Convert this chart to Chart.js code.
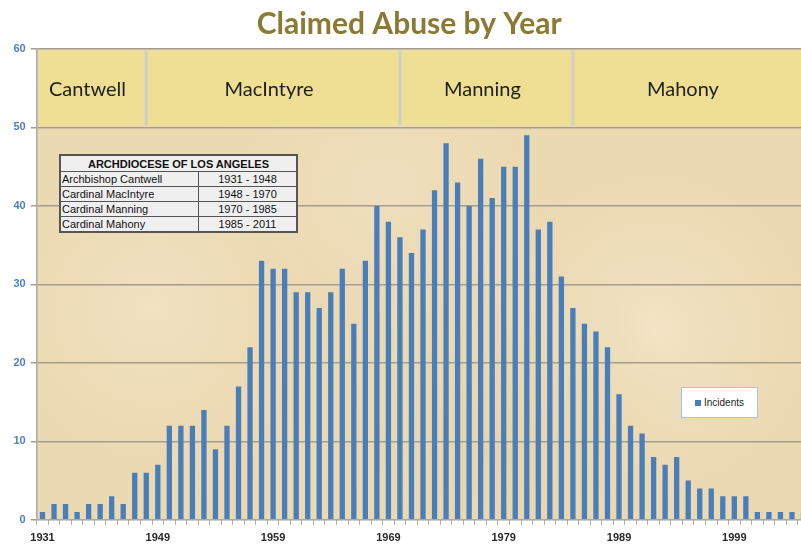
<!DOCTYPE html>
<html>
<head>
<meta charset="utf-8">
<script src="https://cdn.jsdelivr.net/npm/chart.js@4"></script>
<style>
  body { margin: 0; overflow: hidden; background: #fff; }
  #wrap { position: relative; width: 801px; height: 544px; overflow: hidden; }
  #abuseChart { position: absolute; left: 0; top: 0; }
  #archTable {
    position: absolute; left: 59px; top: 154px; width: 239px;
    border-collapse: collapse; background: #efefef;
    font-family: "Liberation Sans", Arial, sans-serif; font-size: 11px; color: #111;
    border: 2px solid #555;
  }
  #archTable td, #archTable th { border: 1px solid #555; padding: 0 1px; height: 14px; line-height: 14px; }
  #archTable th { font-weight: bold; height: 15px; }
  #archTable td.span { text-align: center; width: 95px; }
  #legendBox {
    position: absolute; left: 681px; top: 387px; width: 77px; height: 31px;
    background: #fff; border: 1px solid #a9c1e3; box-sizing: border-box;
    font-family: "Liberation Sans", Arial, sans-serif; font-size: 10px; color: #222;
    display: flex; align-items: center; justify-content: center;
  }
  #legendBox span.sw { display: inline-block; width: 6px; height: 6px; background: #4a7ebb; margin-right: 3px; }
</style>
</head>
<body>
<div id="wrap">
  <canvas id="abuseChart" width="810" height="551"></canvas>
  <table id="archTable"></table>
  <div id="legendBox"></div>
</div>
<script>
// categories (years with claims)
let years = ['1931','1933','1935','1937','1939','1941','1943','1945','1947','1948',
  '1949','1950','1951','1952','1953','1954','1955','1956','1957','1958',
  '1959','1960','1961','1962','1963','1964','1965','1966','1967','1968',
  '1969','1970','1971','1972','1973','1974','1975','1976','1977','1978',
  '1979','1980','1981','1982','1983','1984','1985','1986','1987','1988',
  '1989','1990','1991','1992','1993','1994','1995','1996','1997','1998',
  '1999','2000','2001','2002','2003','2004','2005'];
let incidents = [1,2,2,1,2,2,3,2,6,6,
  7,12,12,12,14,9,12,17,22,33,
  32,32,29,29,27,29,32,25,33,40,
  38,36,34,37,42,48,43,40,46,41,
  45,45,49,37,38,31,27,25,24,22,
  16,12,11,8,7,8,5,4,4,3,
  3,3,1,1,1,1,1];
let seriesName = "Incidents";

// bands along the top of the chart
let eraNames = ['Cantwell', 'MacIntyre', 'Manning', 'Mahony'];
let eraStart = ['1931', '1948', '1970', '1985'];
let eraEnd = ['1948', '1970', '1985', '2011'];

// inset table
let tableHeader = "ARCHDIOCESE OF LOS ANGELES";
let tableNames = ['Archbishop Cantwell', 'Cardinal MacIntyre', 'Cardinal Manning', 'Cardinal Mahony'];
let tableSpans = ['1931 - 1948', '1948 - 1970', '1970 - 1985', '1985 - 2011'];

let yTicks = [0, 10, 20, 30, 40, 50, 60];

// build table + legend
let tb = document.getElementById("archTable");
let html = '<tr><th colspan="2">' + tableHeader + '</th></tr>';
for (let i = 0; i < tableNames.length; i++) {
  html += '<tr><td>' + tableNames[i] + '</td><td class="span">' + tableSpans[i] + '</td></tr>';
}
tb.innerHTML = html;
document.getElementById("legendBox").innerHTML = '<span class="sw"></span>' + seriesName;

// parchment background + yellow era band
const backdrop = {
  id: 'backdrop',
  beforeDraw(chart) {
    const { ctx, chartArea: a } = chart;
    ctx.save();
    ctx.fillStyle = '#ebd9b2';
    ctx.fillRect(a.left, a.top, a.right - a.left, a.bottom - a.top);
    // soft mottling
    let spots = [[0.15, 0.55, '#f1e2c2'], [0.45, 0.3, '#efdfbd'], [0.8, 0.6, '#f2e4c6'], [0.6, 0.85, '#e8d4aa']];
    spots.forEach(s => {
      let cx = a.left + s[0] * (a.right - a.left), cy = a.top + s[1] * (a.bottom - a.top);
      let g = ctx.createRadialGradient(cx, cy, 0, cx, cy, 200);
      g.addColorStop(0, s[2]);
      g.addColorStop(1, 'rgba(235,217,178,0)');
      ctx.fillStyle = g;
      ctx.fillRect(a.left, a.top, a.right - a.left, a.bottom - a.top);
    });
    ctx.restore();
  },
  beforeDatasetsDraw(chart) {
    const { ctx, chartArea: a, scales } = chart;
    const x = scales.x, y = scales.y;
    let yTop = y.getPixelForValue(60) + 2;
    let yBot = y.getPixelForValue(50) - 2;
    ctx.save();
    ctx.fillStyle = '#eedf95';
    ctx.fillRect(a.left + 2, yTop, a.right - a.left - 2, yBot - yTop);
    let seps = [];
    for (let i = 0; i < eraNames.length; i++) {
      let si = years.indexOf(eraStart[i]);
      let ei = years.indexOf(eraEnd[i]);
      let x0 = i === 0 ? a.left : x.getPixelForValue(si);
      let x1 = ei < 0 ? Math.min(a.right, chart.canvas.parentNode.clientWidth) : x.getPixelForValue(ei);
      if (i > 0) seps.push(x0);
      ctx.fillStyle = '#1e1e1e';
      ctx.font = '20px Lato, "Open Sans", sans-serif';
      ctx.textAlign = 'center';
      ctx.textBaseline = 'middle';
      ctx.fillText(eraNames[i], (x0 + x1) / 2 - 4, (yTop + yBot) / 2 + 1);
    }
    ctx.strokeStyle = '#cfcfc8';
    ctx.lineWidth = 3;
    seps.forEach(sx => {
      ctx.beginPath();
      ctx.moveTo(sx, yTop);
      ctx.lineTo(sx, yBot);
      ctx.stroke();
    });
    ctx.restore();
  }
};

const ctx = document.getElementById('abuseChart').getContext('2d');
let AbuseChart = new Chart(ctx, {
  type: 'bar',
  data: {
    labels: years,
    datasets: [{
      label: seriesName,
      data: incidents,
      backgroundColor: '#4a7ebb',
      borderWidth: 0,
      categoryPercentage: 0.46,
      barPercentage: 1.0
    }]
  },
  options: {
    responsive: false,
    animation: false,
    layout: { padding: { left: 8.5, right: 0, top: 0, bottom: 0 } },
    plugins: {
      legend: { display: false },
      tooltip: { enabled: false },
      title: {
        display: true,
        text: 'Claimed Abuse by Year',
        color: '#8b7a33',
        font: { family: 'Lato, "Open Sans", sans-serif', size: 30, weight: 'bold' },
        padding: { top: 6, bottom: 7 }
      }
    },
    scales: {
      x: {
        grid: { drawOnChartArea: false, drawTicks: true, tickLength: 5, color: '#a9a9a9', offset: true },
        border: { color: '#a9a9a9', width: 1 },
        ticks: {
          autoSkip: false,
          maxRotation: 0,
          padding: 6.5,
          color: '#2a2a2a',
          font: { family: '"Liberation Sans", Arial, sans-serif', size: 11, weight: 'bold' },
          callback: function (val, idx) { return idx % 10 === 0 ? years[idx] : ''; }
        }
      },
      y: {
        min: 0,
        max: 60,
        afterBuildTicks: function (axis) { axis.ticks = yTicks.map(v => ({ value: v })); },
        grid: { color: '#a59d8c', lineWidth: 1.5, tickLength: 6 },
        border: { color: '#a9a9a9', width: 1.5 },
        ticks: {
          padding: 5,
          color: '#4f7fbf',
          font: { family: '"Liberation Sans", Arial, sans-serif', size: 11, weight: 'bold' }
        }
      }
    }
  },
  plugins: [backdrop]
});
</script>
</body>
</html>
